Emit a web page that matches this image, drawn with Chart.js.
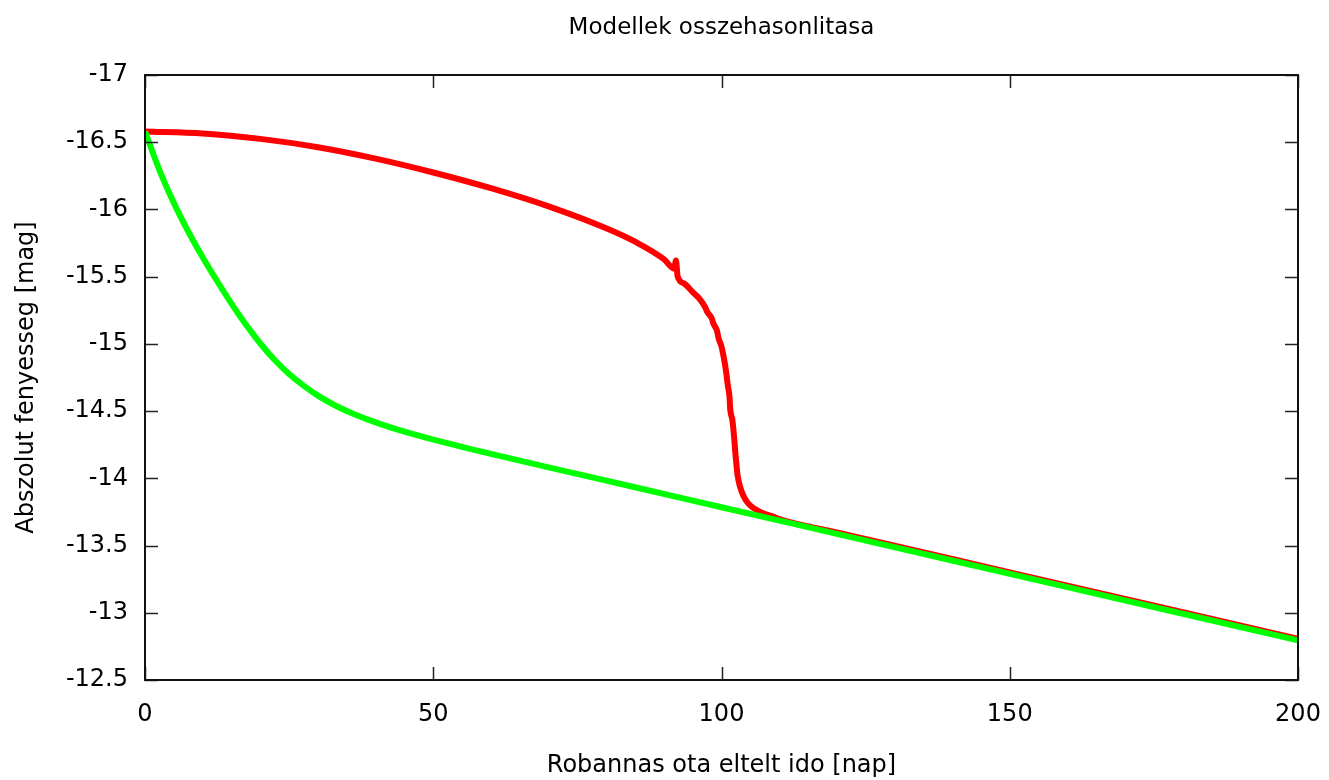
<!DOCTYPE html>
<html>
<head>
<meta charset="utf-8">
<title>Modellek osszehasonlitasa</title>
<script src="https://cdn.jsdelivr.net/npm/chart.js@4.4.1/dist/chart.umd.min.js"></script>
<style>
  html, body { margin: 0; padding: 0; background: #fff; }
  #wrap { width: 1329px; height: 780px; }
</style>
</head>
<body>
<div id="wrap"><canvas id="chart" width="1329" height="780"></canvas></div>
<script>
// values (days since explosion, absolute magnitude)
const greenDays = [0, 2.5, 5, 7.5, 10, 12.5, 15, 17.5, 20, 22.5, 25, 27.5, 30, 33, 36, 40, 45, 50, 60, 70, 85, 100, 120, 140, 160, 180, 200]
const greenMag = [-16.580, -16.293, -16.049, -15.836, -15.645, -15.468, -15.300, -15.144, -15.003, -14.880, -14.776, -14.689, -14.615, -14.542, -14.482, -14.416, -14.347, -14.288, -14.182, -14.082, -13.934, -13.785, -13.587, -13.389, -13.191, -12.993, -12.795]

const redDays = [0, 10, 20, 30, 40, 50, 60, 70, 80, 85, 90, 91.8, 92.1, 92.4, 93.5, 95, 96.3, 97.2, 97.5, 98.3, 98.6, 99.2, 99.5, 100.0, 100.3, 100.6, 100.9, 101.1, 101.4, 101.5, 101.9, 102.2, 102.4, 102.6, 102.8, 103.2, 103.8, 104.5, 105.5, 107, 109, 110, 120, 140, 160, 180, 200]
const redMag = [-16.580, -16.565, -16.525, -16.463, -16.378, -16.275, -16.158, -16.023, -15.860, -15.760, -15.630, -15.560, -15.620, -15.500, -15.450, -15.385, -15.330, -15.270, -15.240, -15.190, -15.150, -15.100, -15.040, -14.980, -14.920, -14.850, -14.760, -14.690, -14.600, -14.520, -14.430, -14.300, -14.190, -14.100, -14.020, -13.940, -13.870, -13.820, -13.780, -13.745, -13.715, -13.697, -13.598, -13.400, -13.202, -13.004, -12.806]

const chartTitle = 'Modellek osszehasonlitasa'
const xTitle = 'Robannas ota eltelt ido [nap]'
const yTitle = 'Abszolut fenyesseg [mag]'

const FONT = 'DejaVu Sans'

function toPoints(xs, ys) {
  return xs.map((x, i) => ({ x: x, y: ys[i] }))
}

// gnuplot style frame, inward ticks (mirrored) and title
const framePlugin = {
  id: 'frame',
  afterDatasetsDraw(chart) {
    const { ctx, chartArea: a, scales } = chart
    const len = 13
    ctx.save()
    ctx.strokeStyle = '#222'
    ctx.lineWidth = 1.5
    ctx.beginPath()
    scales.x.ticks.forEach(t => {
      const px = Math.round(scales.x.getPixelForValue(t.value)) + 0.5
      ctx.moveTo(px, a.bottom); ctx.lineTo(px, a.bottom - len)
      ctx.moveTo(px, a.top); ctx.lineTo(px, a.top + len)
    })
    scales.y.ticks.forEach(t => {
      const py = Math.round(scales.y.getPixelForValue(t.value)) + 0.5
      ctx.moveTo(a.left, py); ctx.lineTo(a.left + len, py)
      ctx.moveTo(a.right, py); ctx.lineTo(a.right - len, py)
    })
    ctx.stroke()
    ctx.strokeStyle = '#111'
    ctx.lineWidth = 2
    ctx.strokeRect(a.left, a.top, a.right - a.left, a.bottom - a.top)
    ctx.fillStyle = '#000'
    ctx.font = '23px "' + FONT + '"'
    ctx.textAlign = 'center'
    ctx.textBaseline = 'middle'
    ctx.fillText(chartTitle, (a.left + a.right) / 2, 28)
    ctx.restore()
  }
}

const lineConfig = {
  type: 'line',
  data: {
    datasets: [
      {
        label: 'green',
        data: toPoints(greenDays, greenMag),
        borderColor: '#00ff00',
        borderWidth: 6,
        pointRadius: 0,
        cubicInterpolationMode: 'monotone',
        fill: false,
      },
      {
        label: 'red',
        data: toPoints(redDays, redMag),
        borderColor: '#ff0000',
        borderWidth: 6,
        pointRadius: 0,
        cubicInterpolationMode: 'monotone',
        fill: false,
      },
    ],
  },
  options: {
    responsive: false,
    animation: false,
    layout: {
      autoPadding: false,
      padding: { top: 75, right: 31, bottom: 0, left: 0 },
    },
    plugins: {
      legend: { display: false },
      tooltip: { enabled: false },
    },
    scales: {
      x: {
        type: 'linear',
        min: 0,
        max: 200,
        // invisible tick marks just to push the labels down
        grid: { display: true, drawOnChartArea: false, drawTicks: true, tickLength: 12, color: 'rgba(0,0,0,0)' },
        border: { display: false },
        ticks: {
          stepSize: 50,
          padding: 8,
          color: '#000',
          font: { family: FONT, size: 24 },
          maxRotation: 0,
        },
        title: {
          display: true,
          text: xTitle,
          color: '#000',
          font: { family: FONT, size: 24 },
          padding: { top: 0, bottom: 0 },
        },
        afterFit(scale) { scale.height = 100 },
      },
      y: {
        type: 'linear',
        min: -17,
        max: -12.5,
        reverse: true,
        grid: { display: false, drawTicks: false },
        border: { display: false },
        ticks: {
          stepSize: 0.5,
          padding: 17,
          color: '#000',
          font: { family: FONT, size: 24 },
          callback: v => String(v),
        },
        title: {
          display: true,
          text: yTitle,
          color: '#000',
          font: { family: FONT, size: 24 },
          padding: { top: 12, bottom: 0 },
        },
        afterFit(scale) { scale.width = 145 },
      },
    },
  },
  plugins: [framePlugin],
}

const ctx = document.getElementById('chart')
window.myLine = new Chart(ctx, lineConfig)
</script>
</body>
</html>
